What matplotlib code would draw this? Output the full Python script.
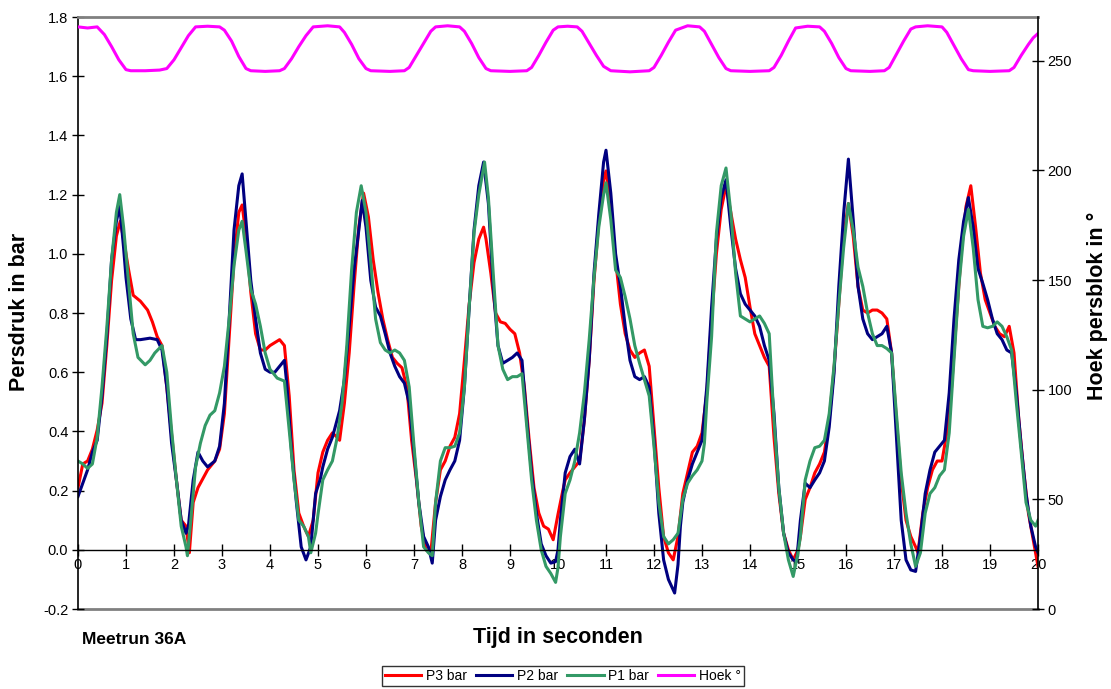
import matplotlib.pyplot as plt
import numpy as np

plt.rcParams['font.family'] = ['Liberation Sans', 'DejaVu Sans']
plt.rcParams['axes.unicode_minus'] = False

# P3 (red) - time in s, pressure in bar
t_p3 = [0.0, 0.1, 0.2, 0.3, 0.4, 0.5, 0.6, 0.7, 0.8, 0.88, 0.95, 1.05, 1.15, 1.3, 1.45, 1.55, 1.65, 1.75, 1.85, 1.95,
        2.05, 2.15, 2.25, 2.32, 2.4, 2.5, 2.6, 2.7, 2.85, 2.95, 3.05, 3.15, 3.25, 3.35, 3.42, 3.5, 3.6, 3.7, 3.8, 3.9,
        4.0, 4.1, 4.2, 4.3, 4.4, 4.5, 4.6, 4.7, 4.8, 4.9, 5.0,
        5.1, 5.2, 5.3, 5.4, 5.45, 5.55, 5.65, 5.75, 5.85, 5.95, 6.05, 6.15, 6.25, 6.35, 6.45, 6.55, 6.65, 6.75, 6.85,
        6.95, 7.05, 7.15, 7.25, 7.35, 7.45, 7.55, 7.65, 7.75, 7.85, 7.95, 8.05, 8.15, 8.25, 8.35, 8.45, 8.5, 8.6, 8.7,
        8.8, 8.9, 9.0, 9.1, 9.2, 9.3, 9.4, 9.5, 9.6, 9.7, 9.8, 9.9,
        10.0, 10.1, 10.15, 10.25, 10.35, 10.45, 10.55, 10.65, 10.75, 10.85, 10.95, 11.0, 11.1, 11.2, 11.3, 11.4, 11.5,
        11.6, 11.7, 11.8, 11.9, 12.0, 12.1, 12.2, 12.3, 12.4, 12.5, 12.6, 12.7, 12.8, 12.9, 13.0, 13.1, 13.2, 13.3,
        13.4, 13.5, 13.6, 13.7, 13.8, 13.9, 14.0, 14.1, 14.2, 14.3, 14.4, 14.5, 14.6, 14.7, 14.8, 14.9,
        15.0, 15.05, 15.15, 15.25, 15.35, 15.45, 15.55, 15.65, 15.75, 15.85, 15.95, 16.05, 16.15, 16.25, 16.35, 16.45,
        16.55, 16.65, 16.75, 16.85, 16.95, 17.05, 17.15, 17.25, 17.35, 17.45, 17.5, 17.6, 17.7, 17.8, 17.9, 18.0,
        18.1, 18.2, 18.3, 18.4, 18.5, 18.6, 18.7, 18.8, 18.9, 19.0, 19.1, 19.2, 19.3, 19.4, 19.5, 19.6, 19.7, 19.8,
        19.9, 20.0]
p3 = [0.21, 0.29, 0.30, 0.34, 0.405, 0.495, 0.69, 0.91, 1.06, 1.11, 1.05, 0.95, 0.86, 0.84, 0.81, 0.77, 0.72, 0.69, 0.55, 0.39,
      0.236, 0.10, 0.08, -0.01, 0.16, 0.21, 0.24, 0.27, 0.30, 0.34, 0.46, 0.72, 0.98, 1.14, 1.165, 1.06, 0.87, 0.73, 0.675, 0.675,
      0.69, 0.70, 0.71, 0.69, 0.52, 0.27, 0.124, 0.08, 0.045, 0.10, 0.26,
      0.33, 0.37, 0.395, 0.38, 0.37, 0.495, 0.665, 0.89, 1.09, 1.205, 1.125, 0.98, 0.87, 0.78, 0.71, 0.65, 0.63, 0.615, 0.55,
      0.37, 0.236, 0.08, 0.0, -0.01, 0.16, 0.27, 0.30, 0.35, 0.38, 0.46, 0.64, 0.83, 0.97, 1.05, 1.09, 1.05, 0.935, 0.80,
      0.77, 0.765, 0.745, 0.73, 0.665, 0.55, 0.37, 0.21, 0.124, 0.08, 0.07, 0.034,
      0.12, 0.20, 0.236, 0.26, 0.28, 0.30, 0.44, 0.64, 0.91, 1.11, 1.25, 1.28, 1.15, 0.98, 0.83, 0.73, 0.675,
      0.65, 0.665, 0.675, 0.62, 0.415, 0.21, 0.045, -0.01, -0.034, 0.045, 0.19, 0.26, 0.33, 0.35, 0.395, 0.53, 0.78, 1.0,
      1.15, 1.23, 1.14, 1.05, 0.98, 0.92, 0.82, 0.73, 0.69, 0.65, 0.62, 0.38, 0.19, 0.056, 0.0, -0.034,
      0.0, 0.045, 0.17, 0.21, 0.26, 0.29, 0.33, 0.44, 0.61, 0.83, 1.06, 1.17, 1.06, 0.89, 0.81, 0.80,
      0.81, 0.81, 0.80, 0.78, 0.665, 0.44, 0.236, 0.10, 0.045, 0.01, -0.01, 0.124, 0.21, 0.27, 0.30, 0.30,
      0.395, 0.55, 0.78, 1.0, 1.16, 1.23, 1.09, 0.935, 0.845, 0.80, 0.755, 0.73, 0.72, 0.755, 0.665, 0.44, 0.27, 0.124,
      0.034, -0.056]

# P2 (navy)
t_p2 = [0.0, 0.1, 0.2, 0.3, 0.4, 0.5, 0.6, 0.7, 0.8, 0.87, 0.95, 1.0, 1.1, 1.2, 1.3, 1.5, 1.65, 1.75, 1.85, 1.95,
        2.05, 2.15, 2.25, 2.3, 2.4, 2.5, 2.6, 2.7, 2.85, 2.95, 3.05, 3.15, 3.25, 3.35, 3.42, 3.5, 3.6, 3.7, 3.8, 3.9,
        4.0, 4.1, 4.2, 4.3, 4.35, 4.45, 4.55, 4.65, 4.75, 4.85, 4.95,
        5.05, 5.1, 5.2, 5.3, 5.4, 5.45, 5.55, 5.65, 5.75, 5.85, 5.92, 6.0, 6.1, 6.2, 6.3, 6.4, 6.5, 6.6, 6.7, 6.8,
        6.9, 7.0, 7.1, 7.2, 7.3, 7.38, 7.45, 7.55, 7.65, 7.75, 7.85, 7.95, 8.05, 8.15, 8.25, 8.35, 8.45, 8.55, 8.65,
        8.75, 8.85, 8.95, 9.05, 9.15, 9.25, 9.35, 9.45, 9.55, 9.65, 9.75, 9.85, 9.95,
        10.0, 10.05, 10.15, 10.25, 10.35, 10.45, 10.55, 10.65, 10.75, 10.85, 10.95, 11.0, 11.1, 11.2, 11.3, 11.4,
        11.5, 11.6, 11.7, 11.8, 11.9, 12.0, 12.1, 12.2, 12.3, 12.43, 12.5, 12.55, 12.6, 12.7, 12.8, 12.9, 13.0, 13.1,
        13.2, 13.3, 13.4, 13.5, 13.6, 13.7, 13.8, 13.9, 14.0, 14.1, 14.2, 14.3, 14.4, 14.5, 14.6, 14.7, 14.8, 14.9,
        14.97,
        15.05, 15.15, 15.25, 15.35, 15.45, 15.55, 15.65, 15.75, 15.85, 15.95, 16.05, 16.15, 16.25, 16.35, 16.45,
        16.55, 16.65, 16.75, 16.85, 16.95, 17.05, 17.15, 17.25, 17.35, 17.45, 17.55, 17.65, 17.75, 17.85, 17.95,
        18.05, 18.15, 18.25, 18.35, 18.45, 18.55, 18.65, 18.75, 18.85, 18.95, 19.05, 19.15, 19.25, 19.35, 19.45,
        19.55, 19.65, 19.75, 19.85, 19.95, 20.0]
p2 = [0.18, 0.225, 0.27, 0.33, 0.37, 0.52, 0.72, 0.98, 1.11, 1.16, 1.02, 0.92, 0.78, 0.71, 0.71, 0.715, 0.71, 0.675, 0.55, 0.36,
      0.236, 0.10, 0.056, 0.08, 0.236, 0.33, 0.30, 0.28, 0.30, 0.35, 0.495, 0.78, 1.08, 1.23, 1.27, 1.11, 0.91, 0.78, 0.665, 0.61,
      0.60, 0.60, 0.62, 0.64, 0.56, 0.33, 0.16, 0.01, -0.034, 0.01, 0.19,
      0.24, 0.28, 0.34, 0.38, 0.44, 0.47, 0.575, 0.755, 0.945, 1.08, 1.18, 1.09, 0.91, 0.82, 0.79, 0.73, 0.665, 0.62, 0.585, 0.563,
      0.495, 0.33, 0.16, 0.045, 0.01, -0.045, 0.10, 0.18, 0.236, 0.27, 0.30, 0.37, 0.55, 0.82, 1.08, 1.23, 1.31, 1.17, 0.89,
      0.69, 0.63, 0.64, 0.65, 0.665, 0.64, 0.44, 0.26, 0.124, 0.02, -0.02, -0.045, -0.04,
      0.0, 0.10, 0.26, 0.315, 0.34, 0.29, 0.44, 0.64, 0.935, 1.135, 1.31, 1.35, 1.205, 1.0, 0.89, 0.755,
      0.64, 0.585, 0.575, 0.585, 0.55, 0.37, 0.124, -0.034, -0.10, -0.146, -0.05, 0.08, 0.16, 0.236, 0.29, 0.33, 0.37, 0.55,
      0.82, 1.05, 1.19, 1.25, 1.09, 0.95, 0.865, 0.83, 0.81, 0.79, 0.755, 0.69, 0.64, 0.46, 0.21, 0.056, -0.01, -0.034,
      -0.04,
      0.10, 0.225, 0.21, 0.236, 0.26, 0.30, 0.415, 0.595, 0.89, 1.135, 1.32, 1.115, 0.89, 0.78, 0.73,
      0.71, 0.72, 0.73, 0.755, 0.665, 0.38, 0.10, -0.034, -0.068, -0.073, 0.045, 0.19, 0.27, 0.33, 0.35,
      0.37, 0.53, 0.78, 0.98, 1.11, 1.19, 1.09, 0.95, 0.90, 0.845, 0.78, 0.73, 0.71, 0.675, 0.665,
      0.53, 0.35, 0.19, 0.08, 0.01, -0.01]

# P1 (green)
t_p1 = [0.0, 0.1, 0.2, 0.3, 0.4, 0.5, 0.6, 0.7, 0.8, 0.87, 0.95, 1.05, 1.15, 1.25, 1.4, 1.5, 1.6, 1.75, 1.85, 1.95,
        2.05, 2.15, 2.25, 2.28, 2.35, 2.45, 2.55, 2.65, 2.75, 2.85, 2.95, 3.05, 3.15, 3.25, 3.35, 3.42, 3.5, 3.6, 3.7,
        3.8, 3.9, 4.0, 4.15, 4.3, 4.4, 4.5, 4.6, 4.7, 4.8, 4.85, 4.95,
        5.0, 5.1, 5.2, 5.3, 5.4, 5.5, 5.6, 5.7, 5.8, 5.9, 6.0, 6.1, 6.2, 6.3, 6.4, 6.5, 6.6, 6.7, 6.8, 6.9, 7.0, 7.1,
        7.2, 7.3, 7.38, 7.45, 7.55, 7.65, 7.75, 7.85, 7.95, 8.05, 8.15, 8.25, 8.35, 8.47, 8.55, 8.65, 8.75, 8.85,
        8.95, 9.05, 9.15, 9.25, 9.35, 9.45, 9.55, 9.65, 9.75, 9.85, 9.95,
        10.0, 10.05, 10.15, 10.25, 10.35, 10.45, 10.55, 10.65, 10.75, 10.85, 10.95, 11.0, 11.1, 11.2, 11.3, 11.4,
        11.5, 11.6, 11.7, 11.8, 11.9, 12.0, 12.1, 12.2, 12.3, 12.4, 12.5, 12.6, 12.7, 12.8, 12.9, 13.0, 13.05, 13.1,
        13.2, 13.3, 13.4, 13.5, 13.6, 13.7, 13.8, 13.9, 14.0, 14.1, 14.2, 14.3, 14.4, 14.5, 14.6, 14.7, 14.8, 14.9,
        15.0,
        15.05, 15.15, 15.25, 15.35, 15.45, 15.55, 15.65, 15.75, 15.85, 15.95, 16.05, 16.15, 16.25, 16.35, 16.45,
        16.55, 16.65, 16.75, 16.85, 16.95, 17.05, 17.15, 17.25, 17.35, 17.45, 17.55, 17.65, 17.75, 17.85, 17.95,
        18.05, 18.15, 18.25, 18.35, 18.45, 18.55, 18.65, 18.75, 18.85, 18.95, 19.05, 19.15, 19.25, 19.35, 19.45,
        19.55, 19.65, 19.75, 19.85, 19.95, 20.0]
p1 = [0.30, 0.29, 0.275, 0.29, 0.38, 0.55, 0.75, 0.98, 1.14, 1.20, 1.09, 0.91, 0.73, 0.65, 0.625, 0.64, 0.665, 0.69, 0.60, 0.405,
      0.236, 0.08, 0.01, -0.02, 0.10, 0.28, 0.36, 0.42, 0.455, 0.47, 0.53, 0.62, 0.78, 0.96, 1.08, 1.11, 1.01, 0.88, 0.83,
      0.755, 0.665, 0.61, 0.58, 0.57, 0.405, 0.236, 0.10, 0.08, 0.045, -0.01, 0.056,
      0.12, 0.236, 0.27, 0.30, 0.38, 0.495, 0.69, 0.945, 1.14, 1.23, 1.14, 0.97, 0.78, 0.70, 0.675, 0.665, 0.675, 0.665, 0.64, 0.55, 0.35, 0.16,
      0.01, -0.01, -0.02, 0.16, 0.30, 0.345, 0.345, 0.35, 0.395, 0.55, 0.82, 1.07, 1.20, 1.31, 1.19, 0.935, 0.69, 0.61,
      0.575, 0.585, 0.585, 0.595, 0.415, 0.236, 0.10, 0.0, -0.056, -0.08, -0.11,
      -0.06, 0.045, 0.19, 0.236, 0.30, 0.395, 0.53, 0.71, 0.92, 1.09, 1.20, 1.24, 1.115, 0.945, 0.92, 0.855,
      0.78, 0.69, 0.63, 0.575, 0.52, 0.35, 0.16, 0.045, 0.02, 0.034, 0.056, 0.17, 0.225, 0.25, 0.27, 0.30, 0.36, 0.50,
      0.72, 1.07, 1.23, 1.29, 1.14, 0.935, 0.79, 0.78, 0.77, 0.78, 0.79, 0.765, 0.73, 0.44, 0.21, 0.056, -0.034, -0.09,
      -0.01,
      0.045, 0.236, 0.30, 0.345, 0.35, 0.37, 0.46, 0.62, 0.83, 1.02, 1.17, 1.08, 0.955, 0.89, 0.80,
      0.73, 0.69, 0.69, 0.68, 0.665, 0.46, 0.26, 0.124, 0.02, -0.056, -0.01, 0.124, 0.19, 0.21, 0.25,
      0.27, 0.395, 0.64, 0.89, 1.06, 1.15, 1.02, 0.845, 0.755, 0.75, 0.755, 0.77, 0.755, 0.72, 0.675,
      0.495, 0.33, 0.16, 0.10, 0.08, 0.10]

# Hoek (magenta) - angle in degrees, right axis
t_hoek = [0.0, 0.2, 0.4, 0.55, 0.7, 0.85, 1.0, 1.1, 1.4, 1.7, 1.85, 2.0, 2.15, 2.3, 2.45, 2.7, 2.95, 3.05, 3.2, 3.35,
          3.5, 3.6, 3.9, 4.2, 4.3, 4.45, 4.6, 4.75, 4.9, 5.2, 5.45, 5.55, 5.7, 5.85, 6.0, 6.1, 6.5, 6.8, 6.9, 7.05,
          7.2, 7.35, 7.45, 7.7, 7.95, 8.05, 8.2, 8.35, 8.5, 8.6, 9.0, 9.35, 9.45, 9.6, 9.75, 9.9, 10.0, 10.2, 10.4,
          10.5, 10.65, 10.8, 10.95, 11.1, 11.5, 11.9, 12.0, 12.15, 12.3, 12.45, 12.7, 12.95, 13.05, 13.2, 13.35, 13.5,
          13.6, 14.0, 14.4, 14.5, 14.65, 14.8, 14.95, 15.2, 15.45, 15.55, 15.7, 15.85, 16.0, 16.1, 16.5, 16.8, 16.9,
          17.05, 17.2, 17.35, 17.45, 17.7, 18.0, 18.1, 18.25, 18.4, 18.55, 18.65, 19.0, 19.4, 19.5, 19.65, 19.8,
          19.9, 20.0]
hoek = [265.5, 265.0, 265.5, 262.0, 256.5, 250.5, 246.0, 245.5, 245.5, 245.8, 246.5, 250.5, 256.0, 261.5, 265.5, 265.8,
        265.5, 264.0, 259.0, 252.0, 246.5, 245.5, 245.2, 245.5, 246.5, 251.0, 256.5, 261.5, 265.5, 266.0, 265.5,
        263.0, 257.5, 251.0, 246.5, 245.5, 245.2, 245.5, 247.0, 252.5, 258.0, 263.5, 265.5, 266.0, 265.5, 263.5,
        258.0, 251.5, 246.5, 245.5, 245.2, 245.5, 247.0, 252.5, 258.5, 264.0, 265.5, 265.8, 265.5, 263.5, 258.0,
        252.5, 247.5, 245.5, 245.0, 245.5, 247.0, 252.5, 258.5, 264.0, 266.0, 265.5, 263.5, 257.5, 251.5, 246.5,
        245.5, 245.2, 245.5, 247.0, 252.5, 259.0, 265.0, 265.8, 265.5, 263.5, 258.0, 251.5, 246.5, 245.5, 245.2,
        245.5, 247.0, 253.0, 259.0, 264.5, 265.5, 266.0, 265.5, 263.0, 257.0, 251.0, 246.0, 245.5, 245.2, 245.5,
        247.0, 252.5, 257.5, 260.5, 262.5]

fig = plt.figure(figsize=(11.11, 6.89), dpi=100)
ax = fig.add_axes([0.0702, 0.1161, 0.8641, 0.8592])

l3, = ax.plot(t_p3, p3, color='#FF0000', lw=2.2, label='P3 bar')
l2, = ax.plot(t_p2, p2, color='#000080', lw=2.2, label='P2 bar')
l1, = ax.plot(t_p1, p1, color='#339966', lw=2.2, label='P1 bar')

ax.set_xlim(0, 20)
ax.set_ylim(-0.2, 1.8)
ax.set_xticks(np.arange(0, 21, 1))
ax.set_yticks(np.arange(-0.2, 1.81, 0.2))
ax.set_yticklabels(['%.1f' % v for v in np.arange(-0.2, 1.81, 0.2)])

ax.spines['bottom'].set_position(('data', 0))
ax.spines['bottom'].set_color('black')
ax.spines['bottom'].set_linewidth(1.0)
ax.spines['left'].set_color('black')
ax.spines['left'].set_linewidth(1.2)
ax.spines['top'].set_color('#808080')
ax.spines['top'].set_linewidth(2.0)
ax.spines['right'].set_visible(False)
ax.axhline(-0.2, color='#808080', lw=2.0, clip_on=False, zorder=0.5)

ax.tick_params(axis='both', direction='inout', length=8, width=1.0, labelsize=10.5)
ax.tick_params(axis='x', pad=2)
ax.tick_params(axis='y', pad=3)

ax2 = ax.twinx()
lh, = ax2.plot(t_hoek, hoek, color='#FF00FF', lw=2.2, label='Hoek °')
ax2.set_ylim(0, 270)
ax2.set_yticks(np.arange(0, 251, 50))
ax2.spines['right'].set_color('black')
ax2.spines['right'].set_linewidth(1.2)
for s in ['top', 'bottom', 'left']:
    ax2.spines[s].set_visible(False)
ax2.tick_params(axis='y', direction='inout', length=8, width=1.0, labelsize=10.5, pad=3)

fig.text(20 / 1111, 1 - 312 / 689, 'Persdruk in bar', rotation=90, ha='center', va='center',
         fontsize=15.5, fontweight='bold')
fig.text(1097 / 1111, 1 - 306 / 689, 'Hoek persblok in °', rotation=90, ha='center', va='center',
         fontsize=15.5, fontweight='bold')
fig.text(558 / 1111, 1 - 637 / 689, 'Tijd in seconden', ha='center', va='center',
         fontsize=15.5, fontweight='bold')
fig.text(82 / 1111, 1 - 640 / 689, 'Meetrun 36A', ha='left', va='center',
         fontsize=12.5, fontweight='bold')

leg = fig.legend([l3, l2, l1, lh], ['P3 bar', 'P2 bar', 'P1 bar', 'Hoek °'], loc='center',
                 bbox_to_anchor=(563 / 1111, 1 - 676 / 689), ncol=4, fontsize=10, frameon=True,
                 fancybox=False, edgecolor='black', handlelength=2.6, handletextpad=0.3,
                 columnspacing=0.7, borderpad=0.25)
leg.get_frame().set_linewidth(1.0)

fig.savefig('out.png', dpi=100)
